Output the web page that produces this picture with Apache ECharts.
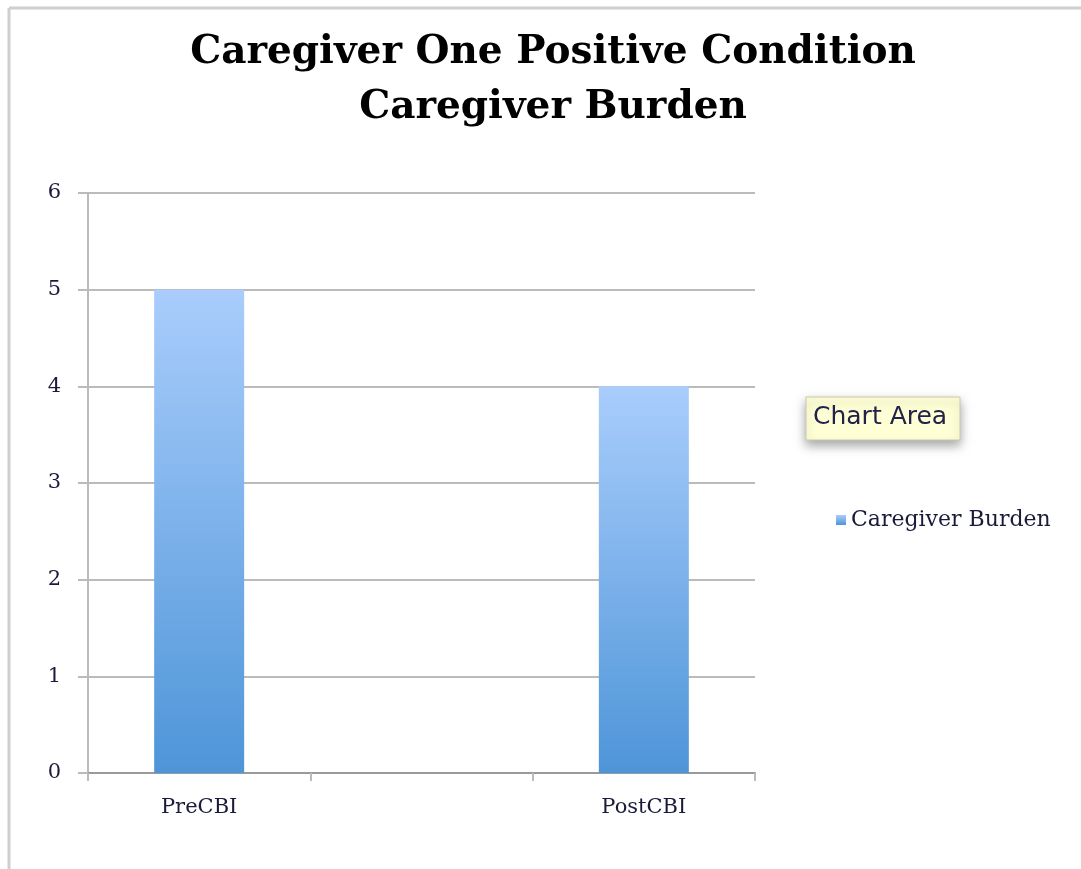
<!DOCTYPE html>
<html><head><meta charset="utf-8">
<script src="https://cdn.jsdelivr.net/npm/echarts@6/dist/echarts.min.js"></script>
<style>html,body{margin:0;padding:0;background:#fff}#c{width:1081px;height:869px}</style>
</head><body><div id="c"></div>
<script>
const titleLines = ['Caregiver One Positive Condition', 'Caregiver Burden'];
const categories = ['PreCBI', '', 'PostCBI'];
const seriesName = 'Caregiver Burden';
const burdenValues = [5, null, 4];
const yTicks = [0, 1, 2, 3, 4, 5, 6];

const chart = echarts.init(document.getElementById('c'));
const serif = '"DejaVu Serif", serif';
chart.setOption({
  animation: false,
  backgroundColor: '#fff',
  title: {
    text: titleLines.join('\n'),
    left: 548, top: 20, textAlign: 'center',
    textStyle: { fontFamily: serif, fontWeight: 'bold', fontSize: 39, lineHeight: 55, color: '#000' }
  },
  legend: {
    left: 831, top: 504, itemWidth: 10, itemHeight: 10, itemGap: 6,
    icon: 'rect',
    textStyle: { fontFamily: serif, fontSize: 22, color: '#1a1a3a' },
    data: [seriesName]
  },
  grid: { left: 88, right: 326, top: 193, bottom: 96 },
  xAxis: {
    type: 'category', data: categories, boundaryGap: true,
    axisLine: { lineStyle: { color: '#9a9a9a', width: 2 } },
    axisTick: { show: true, length: 8, lineStyle: { color: '#bbb', width: 2 } },
    axisLabel: { fontFamily: serif, fontSize: 21, color: '#1a1a3a', margin: 24 }
  },
  yAxis: {
    type: 'value', min: yTicks[0], max: yTicks[yTicks.length - 1], interval: 1,
    axisLine: { show: true, lineStyle: { color: '#bbb', width: 2 } },
    axisTick: { show: true, length: 10, lineStyle: { color: '#bbb', width: 2 } },
    splitLine: { lineStyle: { color: '#bbb', width: 2 } },
    axisLabel: { fontFamily: serif, fontSize: 21, color: '#1a1a3a', margin: 27 }
  },
  series: [{
    name: seriesName, type: 'bar', data: burdenValues, barWidth: 90,
    itemStyle: {
      color: new echarts.graphic.LinearGradient(0, 0, 0, 1, [
        { offset: 0, color: '#a9cdfc' },
        { offset: 1, color: '#4e95d8' }
      ])
    }
  }],
  graphic: [
    { type: 'line', shape: { x1: 9, y1: 8, x2: 1081, y2: 8 }, style: { stroke: '#cfcfcf', lineWidth: 3 } },
    { type: 'line', shape: { x1: 9, y1: 8, x2: 9, y2: 869 }, style: { stroke: '#cfcfcf', lineWidth: 3 } },
    { type: 'rect', shape: { x: 806, y: 397, width: 154, height: 43 },
      style: { fill: '#ffffd6', stroke: '#c8c8b0', lineWidth: 1, shadowBlur: 10, shadowOffsetY: 5, shadowColor: 'rgba(0,0,0,0.35)' }, z: 10 },
    { type: 'text', x: 813, y: 405, z: 11,
      style: { text: 'Chart Area', font: '25px "DejaVu Sans", sans-serif', fill: '#22224a' } }
  ]
});
</script></body></html>
